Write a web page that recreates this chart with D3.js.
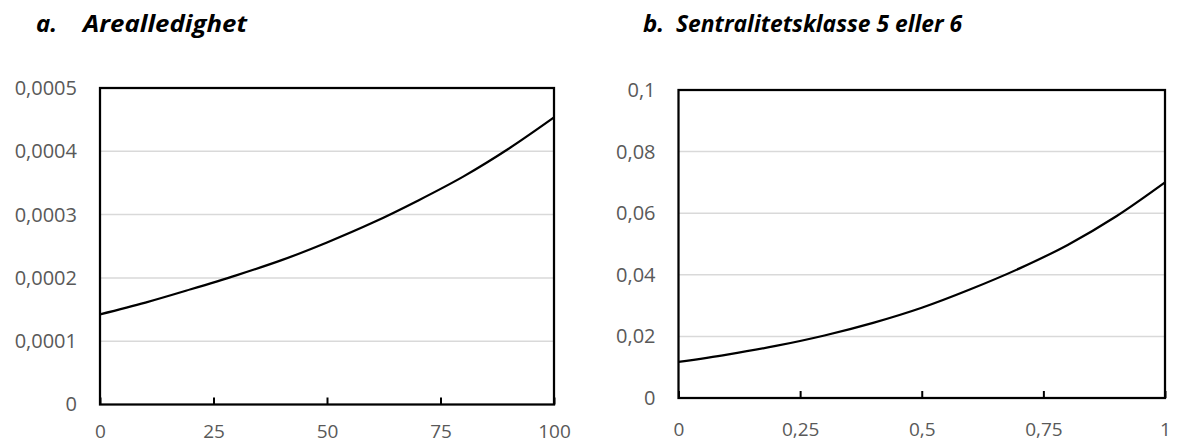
<!DOCTYPE html>
<html lang="no">
<head>
    <meta charset="UTF-8">
    <title>D3</title>
    <script src="https://cdnjs.cloudflare.com/ajax/libs/d3/7.8.5/d3.min.js"></script>
    <style type="text/css">
        body {
            margin: 0;
            background: #fff;
        }
        text {
            font-family: "Open Sans", sans-serif;
        }
    </style>
</head>
<body>
<div class="container"></div>
</body>
<script>
    // panel a: Arealledighet
    const areaX = [0, 10, 20, 30, 40, 50, 60, 70, 80, 90, 100];
    const areaY = [0.0001425, 0.000161, 0.000182, 0.000204, 0.000228, 0.000256,
        0.000287, 0.000322, 0.000360, 0.000404, 0.0004535];
    const areaXTicks = [0, 25, 50, 75, 100];
    const areaYTicks = [0, 0.0001, 0.0002, 0.0003, 0.0004, 0.0005];

    // panel b: Sentralitetsklasse 5 eller 6
    const sentX = [0, 0.1, 0.2, 0.3, 0.4, 0.5, 0.6, 0.7, 0.8, 0.9, 1];
    const sentY = [0.0117, 0.0141, 0.0169, 0.0203, 0.0244, 0.0293,
        0.0353, 0.0420, 0.0497, 0.0590, 0.0700];
    const sentXTicks = [0, 0.25, 0.5, 0.75, 1];
    const sentYTicks = [0, 0.02, 0.04, 0.06, 0.08, 0.1];

    const titles = [['a.', 'Arealledighet'], ['b.', 'Sentralitetsklasse 5 eller 6']];

    const fmt = d => String(d).replace('.', ',');

    const svg = d3.select('.container')
        .append('svg')
        .attr('width', 1178)
        .attr('height', 445);

    const panels = [
        {x: areaX, y: areaY, xt: areaXTicks, yt: areaYTicks, title: titles[0],
            left: 100, right: 554, top: 88, bottom: 404.5, tx: 36, tx2: 83, tw: 164},
        {x: sentX, y: sentY, xt: sentXTicks, yt: sentYTicks, title: titles[1],
            left: 678.5, right: 1165, top: 90, bottom: 398, tx: 643, tx2: 676, tw: 286}
    ];

    panels.forEach(p => {
        const xScale = d3.scaleLinear()
            .domain([p.xt[0], p.xt[p.xt.length - 1]])
            .range([p.left, p.right]);

        const yScale = d3.scaleLinear()
            .domain([p.yt[0], p.yt[p.yt.length - 1]])
            .range([p.bottom, p.top]);

        // title
        const title = svg.append('text')
            .attr('y', 31.5)
            .attr('font-size', 24)
            .attr('font-weight', 'bold')
            .attr('font-style', 'italic')
            .attr('fill', '#000');
        title.append('tspan').attr('x', p.tx).text(p.title[0]);
        title.append('tspan').attr('x', p.tx2)
            .attr('textLength', p.tw)
            .attr('lengthAdjust', 'spacingAndGlyphs')
            .text(p.title[1]);

        // gridlines
        svg.append('g')
            .selectAll('line')
            .data(p.yt.slice(1, -1))
            .enter()
            .append('line')
            .attr('x1', p.left)
            .attr('x2', p.right)
            .attr('y1', d => yScale(d))
            .attr('y2', d => yScale(d))
            .attr('stroke', '#d9d9d9')
            .attr('stroke-width', 1.5);

        // y labels
        const yAxis = d3.axisLeft(yScale)
            .tickValues(p.yt)
            .tickFormat(fmt)
            .tickSize(0)
            .tickPadding(23);

        const gy = svg.append('g')
            .attr('transform', `translate(${p.left}, 0)`)
            .call(yAxis);
        gy.select('.domain').remove();
        gy.selectAll('text')
            .attr('font-size', 20)
            .attr('fill', '#595959')
            .attr('font-family', '"Open Sans", sans-serif');

        // x axis: inward ticks
        const xAxis = d3.axisTop(xScale)
            .tickValues(p.xt)
            .tickFormat(fmt)
            .tickSize(7)
            .tickPadding(0);

        const gx = svg.append('g')
            .attr('transform', `translate(0, ${p.bottom})`)
            .call(xAxis);
        gx.select('.domain').remove();
        gx.selectAll('.tick line')
            .attr('stroke', '#000')
            .attr('stroke-width', 2);
        gx.selectAll('text')
            .attr('y', Math.min(31, 431.5 - p.bottom))
            .attr('dy', '0.35em')
            .attr('font-size', 19)
            .attr('fill', '#595959')
            .attr('font-family', '"Open Sans", sans-serif');

        // curve
        const pts = p.x.map((d, i) => [d, p.y[i]]);
        const line = d3.line()
            .x(d => xScale(d[0]))
            .y(d => yScale(d[1]))
            .curve(d3.curveMonotoneX);

        svg.append('path')
            .attr('fill', 'none')
            .attr('stroke', '#000')
            .attr('stroke-width', 2.25)
            .attr('d', line(pts));

        // frame
        svg.append('rect')
            .attr('x', p.left)
            .attr('y', p.top)
            .attr('width', p.right - p.left)
            .attr('height', p.bottom - p.top)
            .attr('fill', 'none')
            .attr('stroke', '#000')
            .attr('stroke-width', 2.25);
    });
</script>
</html>
